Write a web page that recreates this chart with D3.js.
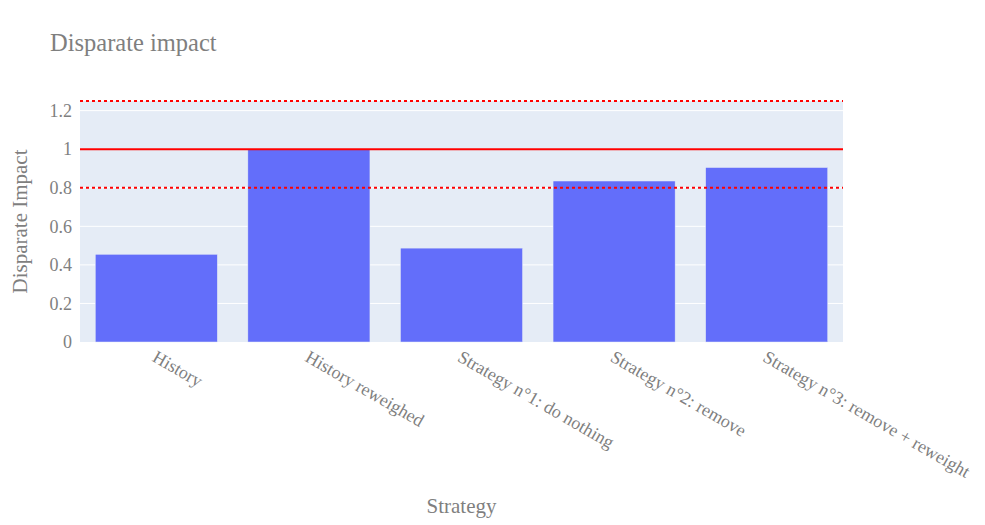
<!DOCTYPE html>
<html>
<head>
<meta charset="utf-8">
<script src="https://cdn.jsdelivr.net/npm/d3@7"></script>
<style>
  body { margin: 0; background: #fff; }
  text { font-family: "Liberation Serif", "Times New Roman", serif; fill: #7f7f7f; }
</style>
</head>
<body>
<svg width="985" height="525"></svg>
<script>
// categories along the x axis
var strategies = ['History', 'History reweighed', 'Strategy n°1: do nothing',
  'Strategy n°2: remove', 'Strategy n°3: remove + reweight'];
// disparate impact per strategy
var impacts = [0.455, 1.0, 0.487, 0.835, 0.905];
// y tick labels
var yTicks = [0, 0.2, 0.4, 0.6, 0.8, 1, 1.2];
// reference lines: fair value and the 0.8 / 1.25 band
var solidLines = [1];
var dottedLines = [0.8, 1.25];

var svg = d3.select('svg');
var margin = { top: 101, right: 142, bottom: 183, left: 80 };
var width = 985 - margin.left - margin.right;
var height = 525 - margin.top - margin.bottom;

var x = d3.scaleBand().domain(strategies).range([0, width]).paddingInner(0.2).paddingOuter(0.1);
var y = d3.scaleLinear().domain([0, 1.25]).range([height, 0]);

var g = svg.append('g').attr('transform', 'translate(' + margin.left + ',' + margin.top + ')');

// plot background
g.append('rect')
  .attr('width', width)
  .attr('height', height)
  .attr('fill', '#e5ecf6');

// grid lines
g.selectAll('.grid')
  .data(yTicks.filter(function(d) { return d > 0; }))
  .enter().append('line')
  .attr('x1', 0).attr('x2', width)
  .attr('y1', function(d) { return y(d); })
  .attr('y2', function(d) { return y(d); })
  .attr('stroke', '#fff').attr('stroke-width', 1);

// bars
g.selectAll('.bar')
  .data(impacts)
  .enter().append('rect')
  .attr('class', 'bar')
  .attr('x', function(d, i) { return x(strategies[i]); })
  .attr('y', function(d) { return y(d); })
  .attr('width', x.bandwidth())
  .attr('height', function(d) { return height - y(d); })
  .attr('fill', '#636efa')
  .attr('stroke', '#e5ecf6')
  .attr('stroke-width', 0.5);

// reference lines
g.selectAll('.solid')
  .data(solidLines)
  .enter().append('line')
  .attr('x1', 0).attr('x2', width)
  .attr('y1', function(d) { return y(d); })
  .attr('y2', function(d) { return y(d); })
  .attr('stroke', 'red').attr('stroke-width', 2);

g.selectAll('.dotted')
  .data(dottedLines)
  .enter().append('line')
  .attr('x1', 0).attr('x2', width)
  .attr('y1', function(d) { return y(d); })
  .attr('y2', function(d) { return y(d); })
  .attr('stroke', 'red').attr('stroke-width', 2)
  .attr('stroke-dasharray', '3,3');

// y axis
var yAxis = g.append('g')
  .call(d3.axisLeft(y).tickValues(yTicks).tickSize(0).tickPadding(8).tickFormat(d3.format('~g')));
yAxis.select('.domain').remove();
yAxis.selectAll('text')
  .style('font-size', '18px')
  .style('font-family', '"Liberation Serif", serif')
  .attr('fill', '#7f7f7f');

// x axis, labels at 30 degrees
var xAxis = g.append('g')
  .attr('transform', 'translate(0,' + height + ')')
  .call(d3.axisBottom(x).tickSize(0));
xAxis.select('.domain').remove();
xAxis.selectAll('text')
  .style('font-size', '18px')
  .style('font-family', '"Liberation Serif", serif')
  .attr('fill', '#7f7f7f')
  .attr('text-anchor', 'start')
  .attr('x', 5)
  .attr('y', 6)
  .attr('dy', '0.7em')
  .attr('transform', 'rotate(30)');

// titles
svg.append('text')
  .attr('x', 50).attr('y', 51)
  .style('font-size', '24.5px')
  .text('Disparate impact');

svg.append('text')
  .attr('x', margin.left + width / 2).attr('y', 513)
  .attr('text-anchor', 'middle')
  .style('font-size', '21px')
  .text('Strategy');

svg.append('text')
  .attr('transform', 'translate(27,' + (margin.top + height / 2) + ') rotate(-90)')
  .attr('text-anchor', 'middle')
  .style('font-size', '21px')
  .text('Disparate Impact');
</script>
</body>
</html>
